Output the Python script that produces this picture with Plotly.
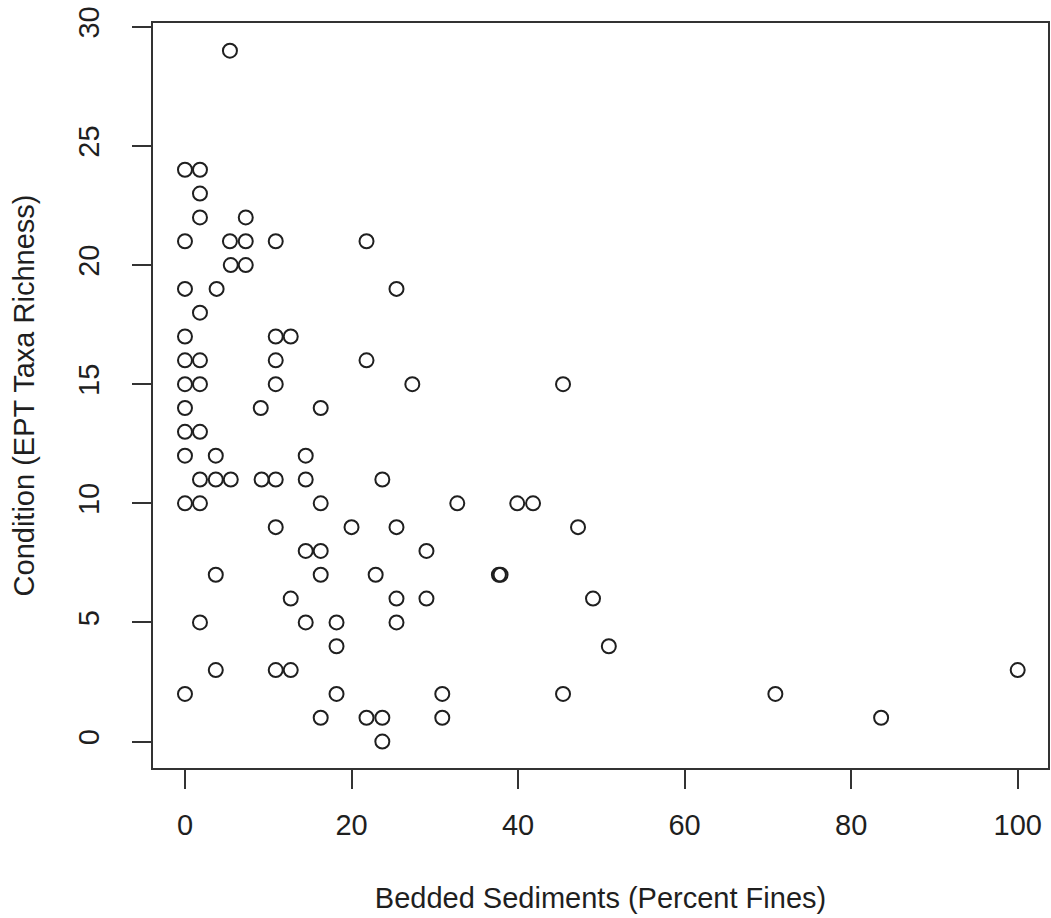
import plotly.graph_objects as go

# Bedded sediments (percent fines) and EPT taxa richness
percent_fines = [
    5.4,
    0, 1.8,
    1.8,
    1.8, 7.3,
    0, 5.4, 7.3, 10.9, 21.8,
    5.5, 7.3,
    0, 3.8, 25.4,
    1.8,
    0, 10.9, 12.7,
    0, 1.8, 10.9, 21.8,
    0, 1.8, 10.9, 27.3, 45.4,
    0, 9.1, 16.3,
    0, 1.8,
    0, 3.7, 14.5,
    1.8, 3.7, 5.5, 9.2, 10.9, 14.5, 23.7,
    0, 1.8, 16.3, 32.7, 39.9, 41.8,
    10.9, 20.0, 25.4, 47.2,
    14.5, 16.3, 29.0,
    3.7, 16.3, 22.9, 37.7, 37.9,
    12.7, 25.4, 29.0, 49.0,
    1.8, 14.5, 18.2, 25.4,
    18.2, 50.9,
    3.7, 10.9, 12.7, 100,
    0, 18.2, 30.9, 45.4, 70.9,
    16.3, 21.8, 23.7, 30.9, 83.6,
    23.7,
]
ept_richness = [
    29,
    24, 24,
    23,
    22, 22,
    21, 21, 21, 21, 21,
    20, 20,
    19, 19, 19,
    18,
    17, 17, 17,
    16, 16, 16, 16,
    15, 15, 15, 15, 15,
    14, 14, 14,
    13, 13,
    12, 12, 12,
    11, 11, 11, 11, 11, 11, 11,
    10, 10, 10, 10, 10, 10,
    9, 9, 9, 9,
    8, 8, 8,
    7, 7, 7, 7, 7,
    6, 6, 6, 6,
    5, 5, 5, 5,
    4, 4,
    3, 3, 3, 3,
    2, 2, 2, 2, 2,
    1, 1, 1, 1, 1,
    0,
]

x_ticks = [0, 20, 40, 60, 80, 100]
y_ticks = [0, 5, 10, 15, 20, 25, 30]

FONT = "Liberation Sans, Arial, Helvetica, sans-serif"
FSIZE = 29
INK = "#1f1f1f"
AXIS = "#333333"

fig = go.Figure(
    go.Scatter(
        x=percent_fines,
        y=ept_richness,
        mode="markers",
        marker=dict(symbol="circle-open", size=14, color=INK, line=dict(width=2, color=INK)),
        hoverinfo="x+y",
    )
)

axis_common = dict(
    showgrid=False,
    zeroline=False,
    showline=True,
    mirror=True,
    linecolor=AXIS,
    linewidth=2,
    ticks="outside",
    ticklen=19,
    tickwidth=1.5,
    tickcolor=AXIS,
    tickfont=dict(family=FONT, size=FSIZE, color=INK),
)

fig.update_xaxes(
    **axis_common,
    range=[-3.84, 103.64],
    tickvals=x_ticks,
    ticktext=[str(v) for v in x_ticks],
    ticklabelstandoff=11,
    title=dict(text="Bedded Sediments (Percent Fines)", font=dict(family=FONT, size=FSIZE, color=INK), standoff=48),
)
fig.update_yaxes(
    **axis_common,
    range=[-1.11, 30.16],
    tickvals=y_ticks,
    ticktext=[str(v) for v in y_ticks],
    tickangle=-90,
    ticklabelstandoff=21,
    title=dict(text="Condition (EPT Taxa Richness)", font=dict(family=FONT, size=FSIZE, color=INK), standoff=30),
)

fig.update_layout(
    width=1051,
    height=918,
    margin=dict(l=152.5, r=2.7, t=23.3, b=149.5, autoexpand=False),
    paper_bgcolor="white",
    plot_bgcolor="white",
    showlegend=False,
    font=dict(family=FONT, color=INK),
)

fig.write_html("out.html")
